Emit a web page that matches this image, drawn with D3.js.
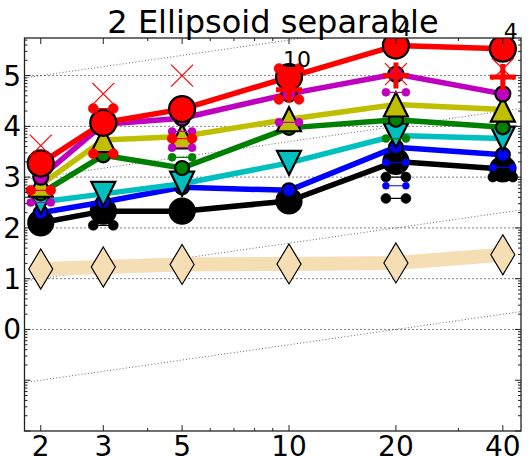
<!DOCTYPE html>
<html><head><meta charset="utf-8">
<script src="https://cdn.jsdelivr.net/npm/d3@7"></script>
<style>body{margin:0;background:#fff}svg{display:block}</style>
</head><body>
<svg id="c" width="532" height="456"></svg>
<script>
// ---- data ----
const dims = [2, 3, 5, 10, 20, 40];
const xTickLabels = ["2", "3", "5", "10", "20", "40"];
const yTickLabels = ["0", "1", "2", "3", "4", "5"];
const ertK = [2.10, 2.33, 2.33, 2.53, 3.31, 3.16];
const ertB = [2.30, 2.51, 2.80, 2.74, 3.59, 3.44];
const ertC = [2.51, 2.67, 2.87, 3.28, 3.82, 3.76];
const ertG = [2.68, 3.43, 3.18, 3.97, 4.13, 3.98];
const ertY = [2.85, 3.73, 3.80, 4.14, 4.43, 4.33];
const ertM = [3.00, 4.04, 4.16, 4.64, 5.03, 4.64];
const ertR = [3.27, 4.07, 4.34, 4.97, 5.59, 5.53];
const best2009 = [1.19, 1.23, 1.28, 1.29, 1.31, 1.47];
const maxEvalDims = [2, 3, 5, 20, 40];
const maxEvalVals = [3.62, 4.64, 5.00, 5.03, 5.13];
const medianDims = [10, 20, 40];
const medianVals = [4.72, 5.00, 4.97];
const succDims = [10, 20, 40];
const succLabels = ["10", "4", "4"];
const pairsR = [[2, 2.74], [3, 4.35], [3, 3.46], [5, 3.76], [10, 5.14], [10, 4.53]];
const pairsM = [[2, 2.50], [5, 3.90], [5, 3.58], [10, 4.08], [20, 4.67]];
const pairsG = [[5, 3.39], [20, 3.76]];
const pairsB = [[20, 3.29], [20, 2.83], [40, 3.19]];
const pairsK = [[3, 2.05], [20, 2.58], [20, 3.00], [40, 3.00]];
const slantOffsets = [-2, 0, 2, 4];

// ---- layout ----
const L = 24.5, R = 521, T = 38, B = 431;
const svg = d3.select("#c");
const x = d3.scaleLog().domain([1.8, 45]).range([L, R]);
const y = d3.scaleLinear().domain([-2, 5.74]).range([B, T]);
const font = "'DejaVu Sans', sans-serif";

svg.append("defs").append("clipPath").attr("id", "clip")
  .append("rect").attr("x", L).attr("y", T).attr("width", R - L).attr("height", B - T);
const plot = svg.append("g").attr("clip-path", "url(#clip)");

// horizontal grid
plot.selectAll("line.grid").data(yTickLabels).join("line")
  .attr("x1", L).attr("x2", R)
  .attr("y1", d => y(+d)).attr("y2", d => y(+d))
  .attr("stroke", "#000").attr("stroke-width", 1).attr("stroke-dasharray", "1,3");

// slanted linear-scaling lines
plot.selectAll("line.slant").data(slantOffsets).join("line")
  .attr("x1", x(1.8)).attr("x2", x(45))
  .attr("y1", d => y(d + Math.log10(1.8) + Math.log10(5)))
  .attr("y2", d => y(d + Math.log10(45) + Math.log10(5)))
  .attr("stroke", "#444").attr("stroke-width", 0.8).attr("stroke-dasharray", "1,2.2");

const line = d3.line().x((d, i) => x(dims[i])).y(d => y(d));

// best 2009 reference
plot.append("path").attr("d", line(best2009)).attr("fill", "none")
  .attr("stroke", "#F5DEB3").attr("stroke-width", 14);
plot.selectAll("path.dia").data(best2009).join("path")
  .attr("transform", (d, i) => `translate(${x(dims[i])},${y(d)})`)
  .attr("d", "M0,-20L12,0L0,20L-12,0Z")
  .attr("fill", "#F5DEB3").attr("stroke", "#000").attr("stroke-width", 1.2);

const circle = r => d3.symbol().type(d3.symbolCircle).size(Math.PI * r * r)();
const triUp = s => `M0,${-s}L${s},${s}L${-s},${s}Z`;
const triDown = s => `M0,${s}L${s},${-s}L${-s},${-s}Z`;

const series = [
  {v: ertK, c: "#000000", m: circle(12.5)},
  {v: ertB, c: "#0000FF", m: circle(7)},
  {v: ertC, c: "#00BFBF", m: triDown(12)},
  {v: ertG, c: "#008000", m: circle(7)},
  {v: ertY, c: "#BFBF00", m: triUp(12)},
  {v: ertM, c: "#BF00BF", m: circle(7.5)},
  {v: ertR, c: "#FF0000", m: circle(13)}
];
series.forEach(s => {
  const g = plot.append("g");
  g.append("path").attr("d", line(s.v)).attr("fill", "none")
    .attr("stroke", s.c).attr("stroke-width", 5.5).attr("stroke-linejoin", "round");
  g.selectAll("path.mk").data(s.v).join("path")
    .attr("transform", (d, i) => `translate(${x(dims[i])},${y(d)})`)
    .attr("d", s.m).attr("fill", s.c).attr("stroke", "#000").attr("stroke-width", 2.2);
});

// small paired markers
function pairs(data, color, r) {
  data.forEach(p => {
    [-10, 10].forEach(dx => {
      plot.append("circle").attr("cx", x(p[0]) + dx).attr("cy", y(p[1])).attr("r", r)
        .attr("fill", color).attr("stroke", color).attr("stroke-width", 0.5);
    });
    plot.append("line").attr("x1", x(p[0]) - 10).attr("x2", x(p[0]) + 10)
      .attr("y1", y(p[1])).attr("y2", y(p[1])).attr("stroke", color).attr("stroke-width", 1.2);
  });
}
pairs(pairsK, "#000000", 5);
pairs(pairsB, "#0000FF", 3.5);
pairs(pairsG, "#008000", 4);
pairs(pairsM, "#BF00BF", 4);
pairs(pairsR, "#FF0000", 5);

// max evals 'x'
plot.selectAll("path.xm").data(maxEvalVals).join("path")
  .attr("transform", (d, i) => `translate(${x(maxEvalDims[i])},${y(d)})`)
  .attr("d", "M-11,-11L11,11M-11,11L11,-11")
  .attr("stroke", "#FF0000").attr("stroke-width", 1.2).attr("fill", "none");

// medians '+'
plot.selectAll("path.pm").data(medianVals).join("path")
  .attr("transform", (d, i) => `translate(${x(medianDims[i])},${y(d)})`)
  .attr("d", "M-13,0L13,0M0,-13L0,13")
  .attr("stroke", "#FF0000").attr("stroke-width", 5).attr("fill", "none");

// axes box
svg.append("rect").attr("x", L).attr("y", T).attr("width", R - L).attr("height", B - T)
  .attr("fill", "none").attr("stroke", "#222").attr("stroke-width", 1.3);

// ticks
const ax = svg.append("g").attr("stroke", "#222").attr("stroke-width", 1);
const xMinor = [4, 6, 7, 8, 9, 30];
dims.forEach(d => {
  ax.append("line").attr("x1", x(d)).attr("x2", x(d)).attr("y1", B).attr("y2", B - 6);
  ax.append("line").attr("x1", x(d)).attr("x2", x(d)).attr("y1", T).attr("y2", T + 6);
});
xMinor.forEach(d => {
  ax.append("line").attr("x1", x(d)).attr("x2", x(d)).attr("y1", B).attr("y2", B - 3);
  ax.append("line").attr("x1", x(d)).attr("x2", x(d)).attr("y1", T).attr("y2", T + 3);
});
d3.range(-2, 6).forEach(k => {
  [L, R].forEach((sx, j) => {
    const dir = j === 0 ? 1 : -1;
    ax.append("line").attr("x1", sx).attr("x2", sx + dir * 6).attr("y1", y(k)).attr("y2", y(k));
    d3.range(2, 10).forEach(m => {
      const v = k + Math.log10(m);
      if (v < 5.74) ax.append("line").attr("x1", sx).attr("x2", sx + dir * 3).attr("y1", y(v)).attr("y2", y(v));
    });
  });
});

// tick labels
svg.selectAll("text.xl").data(xTickLabels).join("text")
  .attr("x", (d, i) => x(dims[i])).attr("y", 455.5)
  .attr("text-anchor", "middle").attr("font-family", font).attr("font-size", 28).attr("fill", "#000")
  .text(d => d);
svg.selectAll("text.yl").data(yTickLabels).join("text")
  .attr("x", 21).attr("y", d => y(+d) + 10)
  .attr("text-anchor", "end").attr("font-family", font).attr("font-size", 28).attr("fill", "#000")
  .text(d => d);

// success counts
svg.selectAll("text.sc").data(succLabels).join("text")
  .attr("x", (d, i) => x(succDims[i]) + 8)
  .attr("y", (d, i) => y(ertR[dims.indexOf(succDims[i])]) - 10)
  .attr("text-anchor", "middle").attr("font-family", font).attr("font-size", 22).attr("fill", "#000")
  .text(d => d);

// title
svg.append("text").attr("x", 273).attr("y", 33).attr("text-anchor", "middle")
  .attr("font-family", font).attr("font-size", 32).attr("fill", "#000")
  .text("2 Ellipsoid separable");
</script>
</body></html>
